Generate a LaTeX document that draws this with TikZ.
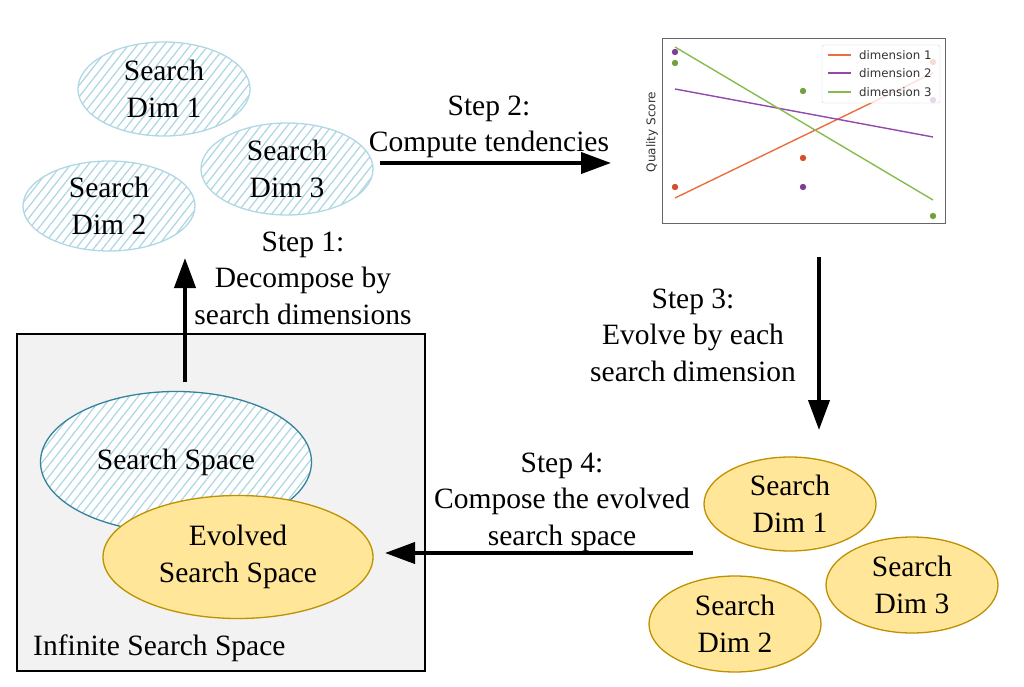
\documentclass[tikz,border=0pt]{standalone}
\usepackage{fontspec}
\setmainfont{Liberation Serif}
\newfontfamily\plotfont{DejaVu Sans}
\usetikzlibrary{positioning, shapes.geometric, arrows.meta,
patterns.meta}

\definecolor{hatchblue}{RGB}{172,214,228}
\definecolor{dimedge}{RGB}{176,216,228}
\definecolor{spaceedge}{RGB}{52,130,155}
\definecolor{evofill}{RGB}{255,230,153}
\definecolor{evoedge}{RGB}{191,144,0}
\definecolor{boxfill}{RGB}{242,242,242}
\definecolor{dimone}{RGB}{234,110,62}
\definecolor{dimtwo}{RGB}{146,72,172}
\definecolor{dimthree}{RGB}{134,188,76}

\tikzset{
  hatched/.style={ellipse, draw=dimedge, line width=1.3pt, align=center,
    inner sep=0pt, preaction={fill=white},
    pattern={Lines[angle=52,distance=7pt,line width=1.2pt]},
    pattern color=hatchblue},
  evolved/.style={ellipse, draw=evoedge, line width=1.3pt, fill=evofill,
    align=center, inner sep=0pt},
  dimnode/.style={minimum width=172pt, minimum height=94pt},
  steparrow/.style={line width=4pt, -{Triangle[length=30pt,width=21pt]}},
  steplabel/.style={align=center},
  plotline/.style={line width=1.4pt}
}

\begin{document}
\begin{tikzpicture}[x=1pt, y=-1pt,
  font=\fontsize{29.5}{36.5}\selectfont]
\useasboundingbox (0,0) rectangle (1024,687);

% decomposed search dimensions
\node[hatched, dimnode] (hd1) at (164,89) {Search\\Dim 1};
\node[hatched, dimnode, minimum height=90pt] (hd2) at (109,206) {Search\\Dim 2};
\node[hatched, dimnode, minimum height=92pt] (hd3) at (287,169) {Search\\Dim 3};

% tendency plot
\draw[gray!80!black, line width=0.9pt] (662,38) rectangle (945,223);
\node[rotate=90, font=\plotfont\fontsize{12}{13}\selectfont, text=black!80]
    (ylab) at (652,132) {Quality Score};
\draw[plotline, dimone] (675,198) -- (933,73);
\draw[plotline, dimtwo] (675,89) -- (933,137);
\draw[plotline, dimthree] (675,47) -- (933,200);
\fill[dimone!80!red!90!black] (675,187) circle (3.2pt) (803,158) circle (3.2pt)
    (933,62) circle (3.2pt);
\fill[dimtwo!85!black] (675,52) circle (3.2pt) (803,187) circle (3.2pt)
    (933,100) circle (3.2pt);
\fill[dimthree!85!black] (675,63) circle (3.2pt) (803,91) circle (3.2pt)
    (933,216) circle (3.2pt);
\draw[gray!35, fill=white, fill opacity=0.8, rounded corners=2pt]
    (822,45) rectangle (940,103);
\draw[plotline, dimone] (828,55) -- (851,55);
\draw[plotline, dimtwo] (828,73) -- (851,73);
\draw[plotline, dimthree] (828,92) -- (851,92);
\node[anchor=west, font=\plotfont\fontsize{11.8}{13}\selectfont, text=black!80,
    inner sep=0pt] (leg1) at (859,55) {dimension 1};
\node[anchor=west, font=\plotfont\fontsize{11.8}{13}\selectfont, text=black!80,
    inner sep=0pt] (leg2) at (859,73) {dimension 2};
\node[anchor=west, font=\plotfont\fontsize{11.8}{13}\selectfont, text=black!80,
    inner sep=0pt] (leg3) at (859,92) {dimension 3};

% infinite search space
\draw[fill=boxfill, line width=1.2pt] (17,334) rectangle (425,671);
\node[hatched, draw=spaceedge, minimum width=271pt, minimum height=141pt]
    (space) at (176,462) {\raisebox{-6pt}{Search Space}};
\node[evolved, minimum width=270pt, minimum height=123pt]
    (evo) at (238,557) {Evolved\\Search Space};
\node[anchor=west, inner sep=0pt] (inf) at (33,648) {Infinite Search Space};

% evolved search dimensions
\node[evolved, dimnode] (ed1) at (790,504) {Search\\Dim 1};
\node[evolved, dimnode, minimum height=96pt] (ed2) at (735,624) {Search\\Dim 2};
\node[evolved, dimnode, minimum height=96pt] (ed3) at (912,585) {Search\\Dim 3};

% steps
\coordinate (s1a) at (185,382);
\coordinate (s1b) at (185,258);
\coordinate (s2a) at (380,163);
\coordinate (s2b) at (611,163);
\coordinate (s3a) at (819,257);
\coordinate (s3b) at (819,430);
\coordinate (s4a) at (693,553);
\coordinate (s4b) at (385,553);
\draw[steparrow] (s1a) -- (s1b);
\draw[steparrow] (s2a) -- (s2b);
\draw[steparrow] (s3a) -- (s3b);
\draw[steparrow] (s4a) -- (s4b);
\node[steplabel] (l1) at (303,278) {Step 1:\\Decompose by\\search dimensions};
\node[steplabel] (l2) at (489,127) {Step 2:\\Compute tendencies};
\node[steplabel] (l3) at (693,335) {Step 3:\\Evolve by each\\search dimension};
\node[steplabel] (l4) at (562,502) {Step 4:\\Compose the evolved\\search space};
\end{tikzpicture}
\end{document}
